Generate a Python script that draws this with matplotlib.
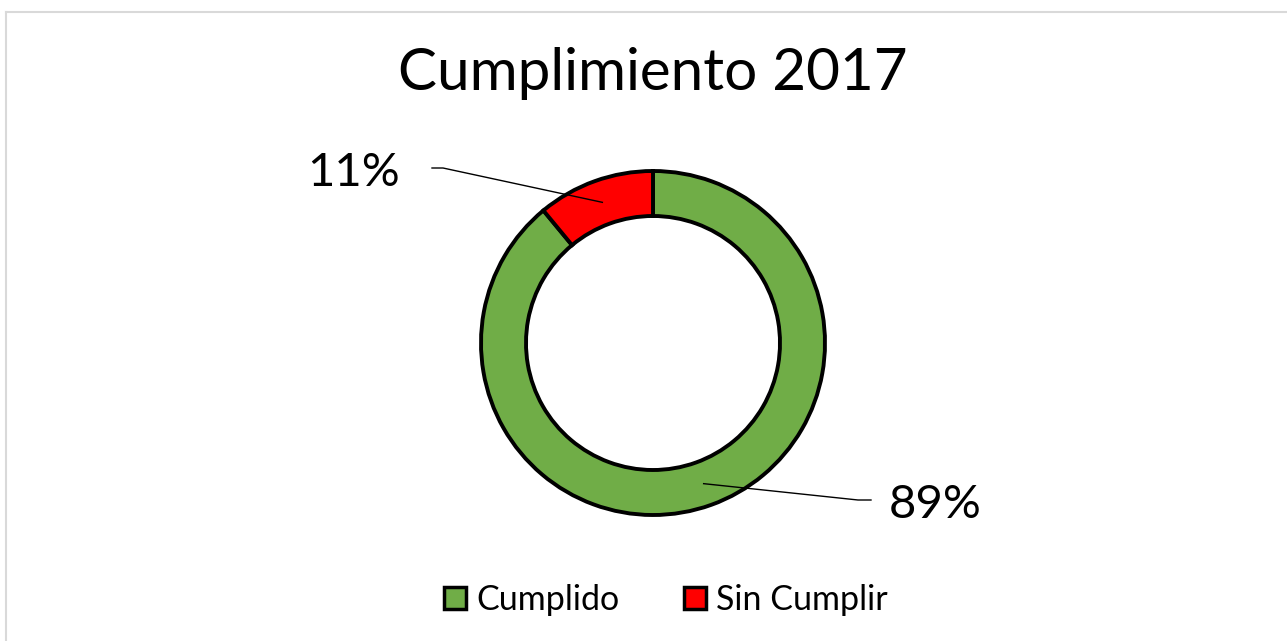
import numpy as np
import matplotlib.pyplot as plt
from matplotlib.patches import Patch
from matplotlib.lines import Line2D

categories = ["Cumplido", "Sin Cumplir"]
values = [89, 11]
labels = ["89%", "11%"]
colors = ["#70ad47", "#ff0000"]

W, H = 1287, 641
plt.rcParams["font.family"] = ["Lato", "DejaVu Sans"]

fig = plt.figure(figsize=(W / 100, H / 100), dpi=100)
ax = fig.add_axes([0, 0, 1, 1])

# chart frame (cropped at right/bottom)
ax.add_line(Line2D([6, 6], [0, H - 11.5], color="#d9d9d9", lw=1.5))
ax.add_line(Line2D([6, W], [H - 11.5, H - 11.5], color="#d9d9d9", lw=1.5))

cx, cy = 653, H - 343
r_out, r_in = 172, 127
wedges, _ = ax.pie(values, radius=r_out, center=(cx, cy), startangle=90,
                   counterclock=False, colors=colors, frame=True,
                   wedgeprops=dict(width=r_out - r_in, edgecolor="black", linewidth=2.8))
ax.set_xlim(0, W)
ax.set_ylim(0, H)
ax.set_aspect("equal")
ax.axis("off")

ax.text(cx, H - 73, "Cumplimiento 2017", ha="center", va="center", fontsize=42)

# data labels with leader lines
label_pos = [(935, H - 505), (354, H - 173)]
bends = [[(858, H - 500), (871, H - 500)], [(443, H - 168), (432, H - 168)]]
r_mid = (r_out + r_in) / 2
for w, lab, pos, bend in zip(wedges, labels, label_pos, bends):
    ang = np.deg2rad((w.theta1 + w.theta2) / 2)
    ax0, ay0 = cx + r_mid * np.cos(ang), cy + r_mid * np.sin(ang)
    xs = [ax0] + [p[0] for p in bend]
    ys = [ay0] + [p[1] for p in bend]
    ax.add_line(Line2D(xs, ys, color="black", lw=1.0))
    ax.text(pos[0], pos[1], lab, ha="center", va="center", fontsize=34)

handles = [Patch(facecolor=c, edgecolor="black", linewidth=2.5) for c in colors]
fig.legend(handles, categories, loc="center", bbox_to_anchor=(666 / W, 1 - 600 / H),
           ncol=2, frameon=False, fontsize=24.5, handlelength=0.65, handleheight=0.65,
           handletextpad=0.3, columnspacing=1.9)

fig.savefig("out.png", dpi=100)
